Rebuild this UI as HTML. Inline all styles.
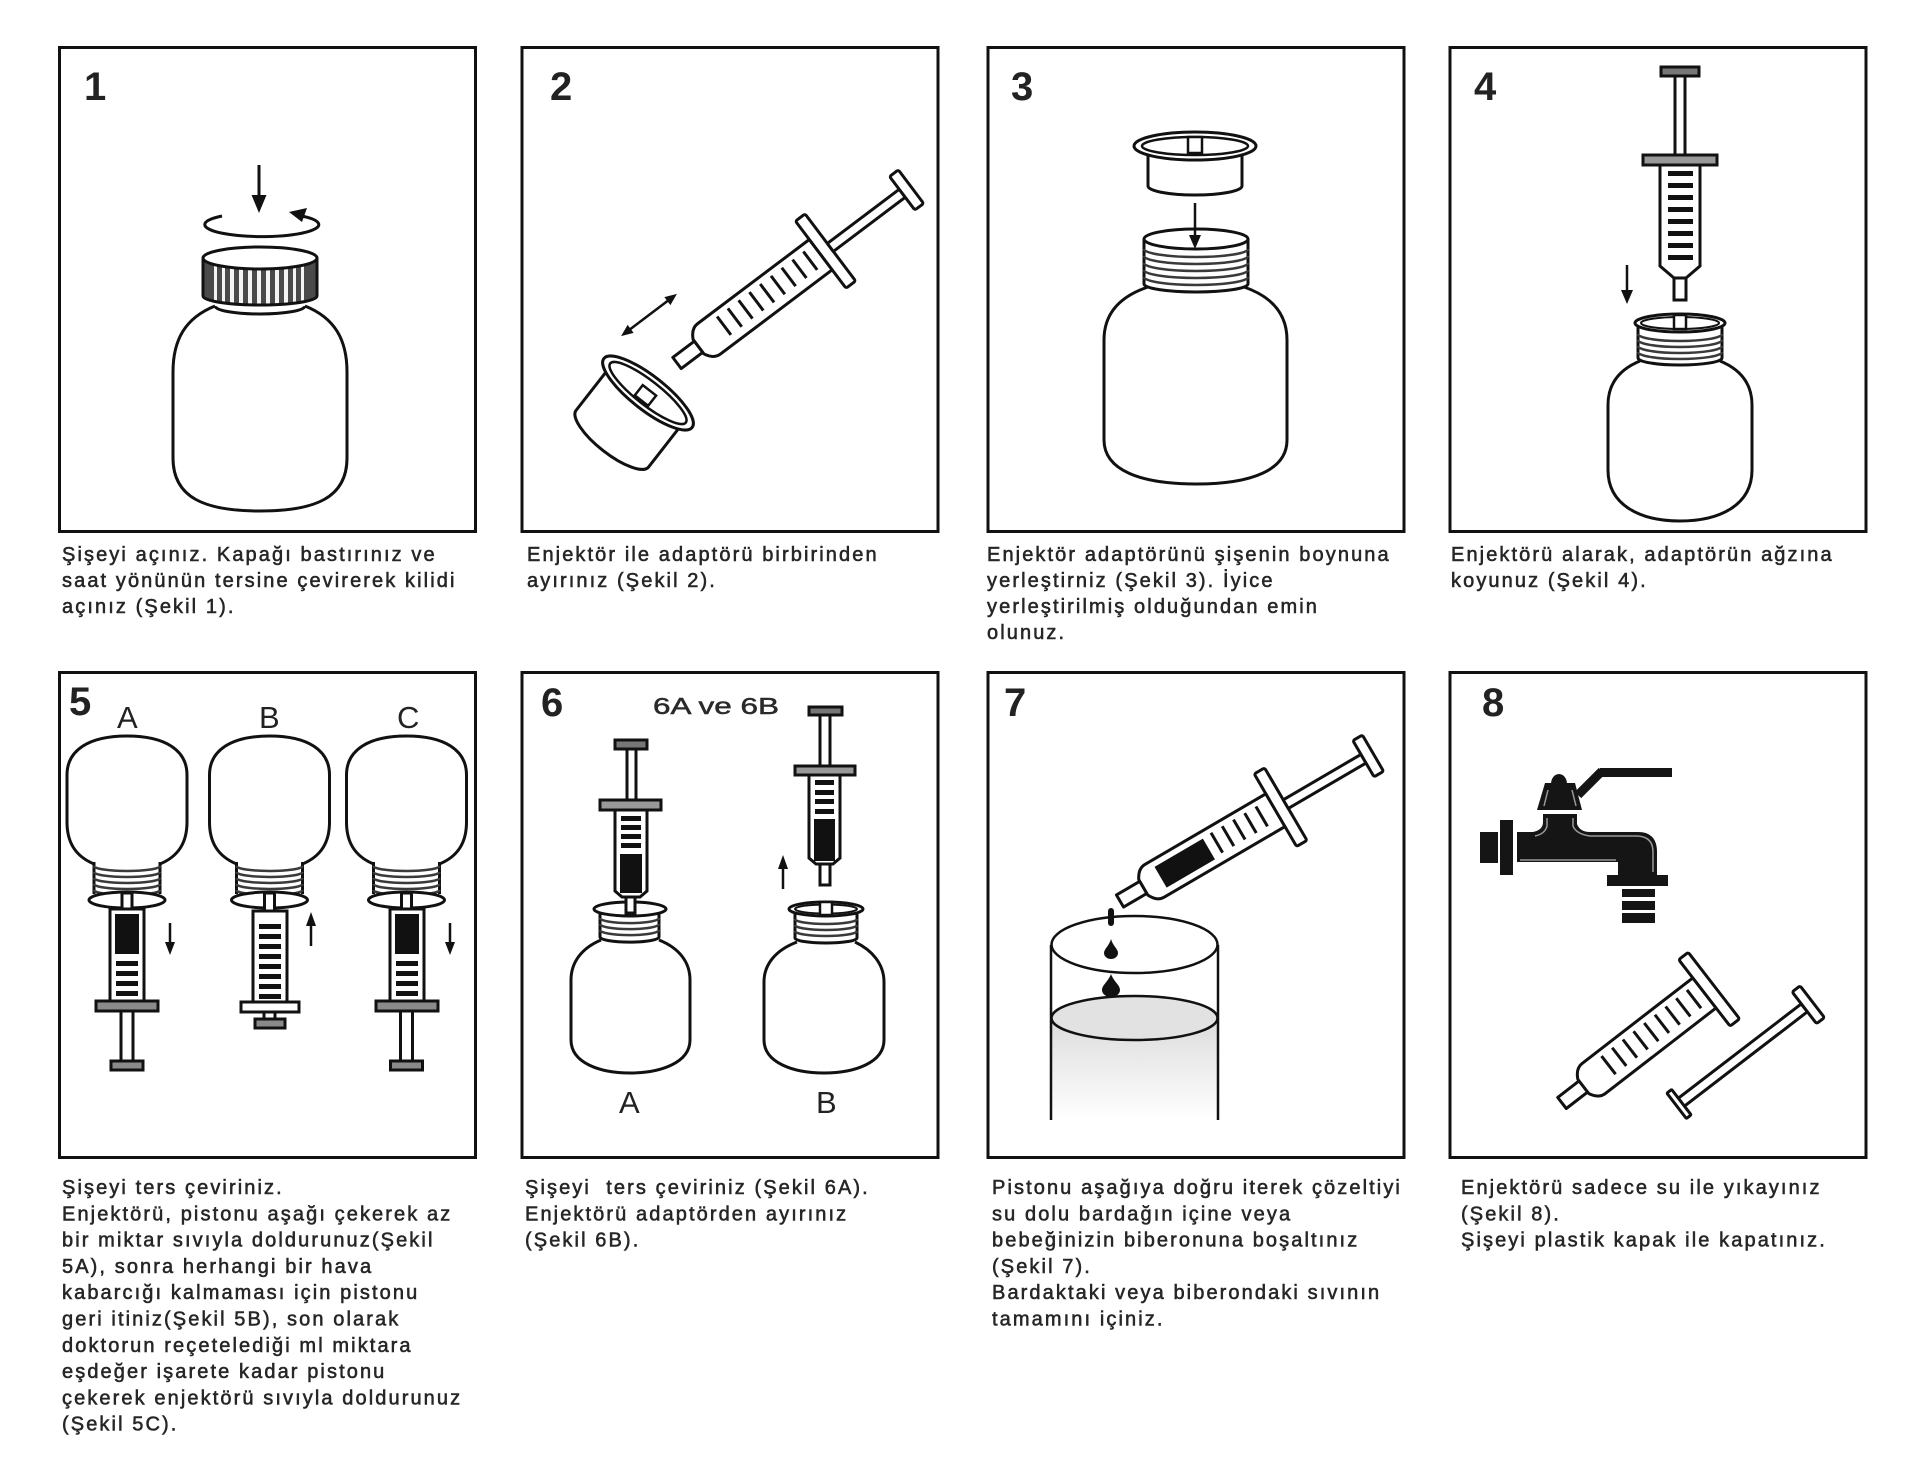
<!DOCTYPE html>
<html><head><meta charset="utf-8"><style>
html,body{margin:0;padding:0;background:#fff;}
svg{display:block;}
.t{font-family:"Liberation Sans",Arial,sans-serif;font-size:20px;letter-spacing:2.1px;fill:#262626;stroke:#262626;stroke-width:0.55px;white-space:pre;}
.n{font-family:"Liberation Sans",Arial,sans-serif;font-size:40px;font-weight:bold;fill:#222;}
.l{font-family:"Liberation Sans",Arial,sans-serif;font-size:31px;fill:#222;}
.s{font-family:"Liberation Sans",Arial,sans-serif;font-size:23px;fill:#2a2a2a;stroke:#2a2a2a;stroke-width:0.5px;}
</style></head><body>
<svg width="1909" height="1475" viewBox="0 0 1909 1475" xmlns="http://www.w3.org/2000/svg">
<defs>
<g id="syr" fill="#fff" stroke="#111" stroke-width="3" stroke-linejoin="round">
 <rect x="0" y="-7" width="27" height="14"/>
 <path d="M27,-9 Q32,-19 40,-19 L180,-19 L180,19 L40,19 Q32,19 27,9 Z"/>
 <rect x="180" y="-42" width="12" height="84" rx="2"/>
 <rect x="192" y="-5" width="90" height="10"/>
 <rect x="282" y="-21" width="11" height="42" rx="2"/>
</g>
<g id="bar" fill="#fff" stroke="#111" stroke-width="3" stroke-linejoin="round">
 <rect x="0" y="-7" width="27" height="14"/>
 <path d="M27,-9 Q32,-19 40,-19 L180,-19 L180,19 L40,19 Q32,19 27,9 Z"/>
 <rect x="180" y="-42" width="12" height="84" rx="2"/>
</g>
<g id="grad9" stroke="#111" stroke-width="3">
 <line x1="60" y1="-13" x2="60" y2="10"/><line x1="73.5" y1="-13" x2="73.5" y2="10"/><line x1="87" y1="-13" x2="87" y2="10"/><line x1="100.5" y1="-13" x2="100.5" y2="10"/><line x1="114" y1="-13" x2="114" y2="10"/><line x1="127.5" y1="-13" x2="127.5" y2="10"/><line x1="141" y1="-13" x2="141" y2="10"/><line x1="154.5" y1="-13" x2="154.5" y2="10"/><line x1="168" y1="-13" x2="168" y2="10"/>
</g>
<clipPath id="capclip"><path d="M203,258 L203,296 A57 9 0 0 0 317,296 L317,258 Z"/></clipPath>
<linearGradient id="liq" x1="0" y1="0" x2="0" y2="1">
 <stop offset="0" stop-color="#dcdcdc"/><stop offset="1" stop-color="#ffffff"/>
</linearGradient>
</defs>

<!-- panel boxes -->
<g fill="none" stroke="#111" stroke-width="3">
 <rect x="59.5" y="47.5" width="416" height="484"/>
 <rect x="522" y="47.5" width="416" height="484"/>
 <rect x="988" y="47.5" width="416" height="484"/>
 <rect x="1450" y="47.5" width="416" height="484"/>
 <rect x="59.5" y="672.5" width="416" height="485"/>
 <rect x="522" y="672.5" width="416" height="485"/>
 <rect x="988" y="672.5" width="416" height="485"/>
 <rect x="1450" y="672.5" width="416" height="485"/>
</g>

<!-- numbers -->
<text class="n" x="84" y="100">1</text>
<text class="n" x="550" y="100">2</text>
<text class="n" x="1011" y="100">3</text>
<text class="n" x="1474" y="100">4</text>
<text class="n" x="69" y="715">5</text>
<text class="n" x="541" y="716">6</text>
<text class="n" x="1004" y="716">7</text>
<text class="n" x="1482" y="716">8</text>

<!-- PANEL 1 -->
<g stroke="#111" stroke-width="3" fill="none">
 <line x1="259" y1="165" x2="259" y2="198"/>
 <path d="M222,216 A57 12 0 1 0 296,215"/>
</g>
<polygon points="251.5,195 266.5,195 259,213" fill="#111"/>
<polygon points="289,212 307,208 302,222" fill="#111"/>
<path d="M215,306 C185,318 173,340 173,372 L173,458 C173,498 205,511 260,511 C315,511 347,498 347,458 L347,372 C347,340 335,318 305,306" fill="none" stroke="#111" stroke-width="3"/>
<path d="M215,306 A45 8 0 0 0 305,306" fill="none" stroke="#111" stroke-width="3"/>
<g clip-path="url(#capclip)">
 <rect x="203" y="255" width="114" height="50" fill="#4a4a4a"/>
 <g fill="#f4f4f4">
  <rect x="214" y="255" width="3" height="50"/><rect x="222" y="255" width="3" height="50"/><rect x="230" y="255" width="4" height="50"/><rect x="239" y="255" width="4" height="50"/><rect x="248" y="255" width="4" height="50"/><rect x="257" y="255" width="4" height="50"/><rect x="266" y="255" width="4" height="50"/><rect x="275" y="255" width="4" height="50"/><rect x="284" y="255" width="4" height="50"/><rect x="293" y="255" width="3" height="50"/><rect x="301" y="255" width="3" height="50"/>
 </g>
</g>
<path d="M203,258 L203,296 A57 9 0 0 0 317,296 L317,258" fill="none" stroke="#111" stroke-width="3"/>
<ellipse cx="260" cy="258" rx="57" ry="11" fill="#fff" stroke="#111" stroke-width="3"/>

<!-- PANEL 2 -->
<g transform="translate(677,363) rotate(-37)">
 <use href="#syr"/>
 <use href="#grad9"/>
</g>
<g transform="translate(649,315) rotate(-37)">
 <line x1="-24" y1="0" x2="24" y2="0" stroke="#111" stroke-width="2.5"/>
 <polygon points="-35,0 -23,-5 -23,5" fill="#111"/>
 <polygon points="35,0 23,-5 23,5" fill="#111"/>
</g>
<g transform="translate(648,393) rotate(38)" stroke="#111" stroke-width="3" fill="#fff">
 <path d="M-46,6 L-46,58 A46 15 0 0 0 46,58 L46,6 Z"/>
 <ellipse cx="0" cy="0" rx="56" ry="17"/>
 <ellipse cx="0" cy="0" rx="48" ry="12" stroke-width="2.5"/>
 <rect x="-9" y="-3" width="17" height="13" stroke-width="2.5"/>
</g>

<!-- PANEL 3 -->
<g stroke="#111" stroke-width="3" fill="#fff">
 <path d="M1148,150 L1148,186 A47 9 0 0 0 1242,186 L1242,150 Z"/>
 <ellipse cx="1195" cy="146" rx="61" ry="14"/>
 <ellipse cx="1195" cy="146" rx="53" ry="9" stroke-width="2.5"/>
 <rect x="1188" y="137" width="14" height="16" stroke-width="2.5"/>
 <path d="M1148,287 C1118,297 1104,315 1104,340 L1104,440 C1104,470 1140,484 1196,484 C1252,484 1287,470 1287,440 L1287,340 C1287,315 1273,297 1244,287" fill="none"/>
 <path d="M1144,239 L1144,284 A52 8 0 0 0 1248,284 L1248,239" fill="#fff"/>
 <ellipse cx="1196" cy="239" rx="52" ry="10"/>
</g>
<g fill="none" stroke="#3a3a3a" stroke-width="2.5">
 <path d="M1144,249 A52 8 0 0 0 1248,249"/><path d="M1144,256 A52 8 0 0 0 1248,256"/><path d="M1144,263 A52 8 0 0 0 1248,263"/><path d="M1144,270 A52 8 0 0 0 1248,270"/><path d="M1144,277 A52 8 0 0 0 1248,277"/>
</g>
<line x1="1195" y1="203" x2="1195" y2="238" stroke="#111" stroke-width="2.5"/>
<polygon points="1189,235 1201,235 1195,249" fill="#111"/>

<!-- PANEL 4 -->
<g stroke="#111" stroke-width="3" fill="#fff">
 <rect x="1661" y="67" width="38" height="9" fill="#777"/>
 <rect x="1675" y="76" width="10" height="79"/>
 <rect x="1643" y="155" width="74" height="10" fill="#999"/>
 <path d="M1660,165 L1660,266 L1674,278 L1686,278 L1700,266 L1700,165 Z"/>
 <rect x="1674" y="278" width="12" height="22"/>
</g>
<g fill="#111">
 <rect x="1668" y="171" width="25" height="5"/><rect x="1668" y="183" width="25" height="5"/><rect x="1668" y="195" width="25" height="5"/><rect x="1668" y="207" width="25" height="5"/><rect x="1668" y="219" width="25" height="5"/><rect x="1668" y="231" width="25" height="5"/><rect x="1668" y="243" width="25" height="5"/><rect x="1668" y="255" width="25" height="5"/>
</g>
<line x1="1627" y1="265" x2="1627" y2="292" stroke="#111" stroke-width="2.5"/>
<polygon points="1621,290 1633,290 1627,304" fill="#111"/>
<g stroke="#111" stroke-width="3" fill="#fff">
 <path d="M1640,361 C1618,370 1608,385 1608,405 L1608,470 C1608,505 1640,521 1680,521 C1720,521 1752,505 1752,470 L1752,405 C1752,385 1742,370 1720,361" fill="none"/>
 <path d="M1638,325 L1638,358 A42 7 0 0 0 1722,358 L1722,325 Z"/>
</g>
<g fill="none" stroke="#3a3a3a" stroke-width="2.5">
 <path d="M1638,334 A42 7 0 0 0 1722,334"/><path d="M1638,340 A42 7 0 0 0 1722,340"/><path d="M1638,346 A42 7 0 0 0 1722,346"/><path d="M1638,352 A42 7 0 0 0 1722,352"/>
</g>
<g stroke="#111" stroke-width="3" fill="#fff">
 <ellipse cx="1680" cy="323" rx="45" ry="9"/>
 <ellipse cx="1680" cy="323" rx="39" ry="6" stroke-width="2"/>
 <rect x="1674" y="315" width="12" height="14" stroke-width="2.5"/>
</g>

<!-- PANEL 5 -->
<text class="l" x="117" y="728">A</text>
<text class="l" x="259" y="728">B</text>
<text class="l" x="397" y="728">C</text>
<!-- bottle A -->
<g stroke="#111" stroke-width="3" fill="#fff">
 <path d="M94,864 C75,856 67,842 67,822 L67,775 C67,750 89,736 127,736 C165,736 187,750 187,775 L187,822 C187,842 179,856 160,864" fill="none"/>
 <rect x="94" y="862" width="66" height="32" fill="#fff" stroke="none"/>
 <line x1="94" y1="862" x2="94" y2="894"/><line x1="160" y1="862" x2="160" y2="894"/>
</g>
<g fill="none" stroke="#3a3a3a" stroke-width="2.5">
 <path d="M94,866 A33 5 0 0 0 160,866"/><path d="M94,872 A33 5 0 0 0 160,872"/><path d="M94,878 A33 5 0 0 0 160,878"/><path d="M94,884 A33 5 0 0 0 160,884"/><path d="M94,890 A33 5 0 0 0 160,890"/>
</g>
<g stroke="#111" stroke-width="3" fill="#fff">
 <ellipse cx="127" cy="900" rx="38" ry="8"/>
 <rect x="122" y="893" width="10" height="17"/>
 <rect x="110" y="909" width="34" height="92"/>
 <rect x="96" y="1001" width="62" height="10" fill="#8a8a8a"/>
 <rect x="121" y="1011" width="12" height="50"/>
 <rect x="111" y="1061" width="32" height="9" fill="#8a8a8a"/>
</g>
<rect x="115" y="914" width="24" height="40" fill="#111"/>
<g fill="#111"><rect x="116" y="961" width="22" height="5"/><rect x="116" y="971" width="22" height="5"/><rect x="116" y="981" width="22" height="5"/><rect x="116" y="991" width="22" height="5"/></g>
<line x1="170" y1="923" x2="170" y2="944" stroke="#111" stroke-width="2.5"/>
<polygon points="165,942 175,942 170,955" fill="#111"/>
<!-- bottle B -->
<g stroke="#111" stroke-width="3" fill="#fff">
 <path d="M236.5,864 C217.5,856 209.5,842 209.5,822 L209.5,775 C209.5,750 231.5,736 269.5,736 C307.5,736 329.5,750 329.5,775 L329.5,822 C329.5,842 321.5,856 302.5,864" fill="none"/>
 <line x1="236.5" y1="862" x2="236.5" y2="894"/><line x1="302.5" y1="862" x2="302.5" y2="894"/>
</g>
<g fill="none" stroke="#3a3a3a" stroke-width="2.5">
 <path d="M236.5,866 A33 5 0 0 0 302.5,866"/><path d="M236.5,872 A33 5 0 0 0 302.5,872"/><path d="M236.5,878 A33 5 0 0 0 302.5,878"/><path d="M236.5,884 A33 5 0 0 0 302.5,884"/><path d="M236.5,890 A33 5 0 0 0 302.5,890"/>
</g>
<g stroke="#111" stroke-width="3" fill="#fff">
 <ellipse cx="269.5" cy="900" rx="38" ry="8"/>
 <rect x="264.5" y="893" width="10" height="19"/>
 <rect x="253" y="911" width="34" height="91"/>
 <rect x="241" y="1002" width="58" height="10" fill="#fff"/>
 <rect x="264" y="1012" width="11" height="8"/>
 <rect x="255" y="1019" width="30" height="9" fill="#8a8a8a"/>
</g>
<g fill="#111"><rect x="259" y="924" width="22" height="5"/><rect x="259" y="934" width="22" height="5"/><rect x="259" y="944" width="22" height="5"/><rect x="259" y="954" width="22" height="5"/><rect x="259" y="964" width="22" height="5"/><rect x="259" y="974" width="22" height="5"/><rect x="259" y="984" width="22" height="5"/><rect x="259" y="994" width="22" height="5"/></g>
<line x1="311" y1="946" x2="311" y2="924" stroke="#111" stroke-width="2.5"/>
<polygon points="306,926 316,926 311,912" fill="#111"/>
<!-- bottle C -->
<g stroke="#111" stroke-width="3" fill="#fff">
 <path d="M373.5,864 C354.5,856 346.5,842 346.5,822 L346.5,775 C346.5,750 368.5,736 406.5,736 C444.5,736 466.5,750 466.5,775 L466.5,822 C466.5,842 458.5,856 439.5,864" fill="none"/>
 <line x1="373.5" y1="862" x2="373.5" y2="894"/><line x1="439.5" y1="862" x2="439.5" y2="894"/>
</g>
<g fill="none" stroke="#3a3a3a" stroke-width="2.5">
 <path d="M373.5,866 A33 5 0 0 0 439.5,866"/><path d="M373.5,872 A33 5 0 0 0 439.5,872"/><path d="M373.5,878 A33 5 0 0 0 439.5,878"/><path d="M373.5,884 A33 5 0 0 0 439.5,884"/><path d="M373.5,890 A33 5 0 0 0 439.5,890"/>
</g>
<g stroke="#111" stroke-width="3" fill="#fff">
 <ellipse cx="406.5" cy="900" rx="38" ry="8"/>
 <rect x="401.5" y="893" width="10" height="17"/>
 <rect x="390" y="909" width="34" height="92"/>
 <rect x="376" y="1001" width="62" height="10" fill="#8a8a8a"/>
 <rect x="400.5" y="1011" width="12" height="50"/>
 <rect x="390.5" y="1061" width="32" height="9" fill="#8a8a8a"/>
</g>
<rect x="395" y="914" width="24" height="40" fill="#111"/>
<g fill="#111"><rect x="396" y="961" width="22" height="5"/><rect x="396" y="971" width="22" height="5"/><rect x="396" y="981" width="22" height="5"/><rect x="396" y="991" width="22" height="5"/></g>
<line x1="450" y1="923" x2="450" y2="944" stroke="#111" stroke-width="2.5"/>
<polygon points="445,942 455,942 450,955" fill="#111"/>

<!-- PANEL 6 -->
<text class="s" x="653" y="714" textLength="126" lengthAdjust="spacingAndGlyphs">6A ve 6B</text>
<!-- bottle 6A -->
<g stroke="#111" stroke-width="3" fill="#fff">
 <path d="M601,940 C582,948 571,962 571,980 L571,1040 C571,1063 600,1073 630,1073 C660,1073 690,1063 690,1040 L690,980 C690,962 679,948 659,940" fill="none"/>
 <path d="M600,911 L600,937 A29 5 0 0 0 659,937 L659,911 Z"/>
</g>
<g fill="none" stroke="#3a3a3a" stroke-width="2.5">
 <path d="M600,918 A29 5 0 0 0 659,918"/><path d="M600,924 A29 5 0 0 0 659,924"/><path d="M600,930 A29 5 0 0 0 659,930"/>
</g>
<g stroke="#111" stroke-width="3" fill="#fff">
 <ellipse cx="630" cy="909" rx="36" ry="7"/>
 <rect x="626" y="895" width="9" height="18"/>
 <rect x="615" y="740" width="32" height="9" fill="#777"/>
 <rect x="627" y="749" width="9" height="51"/>
 <rect x="600" y="800" width="61" height="10" fill="#999"/>
 <path d="M615,810 L615,891 L622,897 L640,897 L647,891 L647,810 Z"/>
</g>
<rect x="620" y="854" width="22" height="39" fill="#111"/>
<g fill="#111"><rect x="621" y="816" width="20" height="5"/><rect x="621" y="825" width="20" height="5"/><rect x="621" y="834" width="20" height="5"/><rect x="621" y="843" width="20" height="5"/></g>
<text class="l" x="619" y="1113">A</text>
<!-- bottle 6B -->
<g stroke="#111" stroke-width="3" fill="#fff">
 <path d="M797,942 C776,950 764,964 764,982 L764,1040 C764,1063 794,1073 824,1073 C854,1073 884,1063 884,1040 L884,982 C884,964 872,950 855,942" fill="none"/>
 <path d="M795,911 L795,938 A31 5 0 0 0 857,938 L857,911 Z"/>
</g>
<g fill="none" stroke="#3a3a3a" stroke-width="2.5">
 <path d="M795,919 A31 5 0 0 0 857,919"/><path d="M795,925 A31 5 0 0 0 857,925"/><path d="M795,931 A31 5 0 0 0 857,931"/>
</g>
<g stroke="#111" stroke-width="3" fill="#fff">
 <ellipse cx="826" cy="909" rx="37" ry="7"/>
 <ellipse cx="826" cy="909" rx="31" ry="4.5" stroke-width="2"/>
 <rect x="820" y="902" width="12" height="13" stroke-width="2.5"/>
 <rect x="809" y="707" width="33" height="8" fill="#777"/>
 <rect x="820" y="715" width="10" height="51"/>
 <rect x="795" y="766" width="60" height="9" fill="#999"/>
 <path d="M809,775 L809,858 L816,864 L833,864 L840,858 L840,775 Z"/>
 <rect x="820" y="864" width="10" height="21"/>
</g>
<rect x="814" y="819" width="21" height="42" fill="#111"/>
<g fill="#111"><rect x="815" y="780" width="19" height="5"/><rect x="815" y="790" width="19" height="5"/><rect x="815" y="799" width="19" height="5"/><rect x="815" y="809" width="19" height="5"/></g>
<line x1="783" y1="889" x2="783" y2="868" stroke="#111" stroke-width="2.5"/>
<polygon points="778,869 788,869 783,855" fill="#111"/>
<text class="l" x="816" y="1113">B</text>

<!-- PANEL 7 -->
<path d="M1051,1018 L1051,1120 L1218,1120 L1218,1018 Z" fill="url(#liq)"/>
<ellipse cx="1134.5" cy="1018" rx="83" ry="22" fill="#e2e2e2" stroke="#111" stroke-width="2.5"/>
<g stroke="#111" stroke-width="2.5" fill="none">
 <line x1="1051" y1="945" x2="1051" y2="1120"/>
 <line x1="1218" y1="945" x2="1218" y2="1120"/>
 <ellipse cx="1134.5" cy="944.5" rx="83" ry="28.5"/>
</g>
<rect x="1108" y="908" width="6" height="18" rx="3" fill="#111"/>
<path d="M1111,939 C1113,946 1118,949 1118,953 A7 6 0 0 1 1104,953 C1104,949 1109,946 1111,939 Z" fill="#111"/>
<path d="M1111,974 C1114,982 1120,985 1120,990 A9 7 0 0 1 1102,990 C1102,985 1108,982 1111,974 Z" fill="#111"/>
<g transform="translate(1120,901) rotate(-30.3)">
 <use href="#syr"/>
 <rect x="47" y="-12" width="56" height="24" fill="#111"/>
 <g stroke="#111" stroke-width="3"><line x1="113" y1="-13" x2="113" y2="10"/><line x1="126" y1="-13" x2="126" y2="10"/><line x1="139" y1="-13" x2="139" y2="10"/><line x1="152" y1="-13" x2="152" y2="10"/><line x1="165" y1="-13" x2="165" y2="10"/></g>
</g>

<!-- PANEL 8 faucet -->
<g fill="#151515">
 <rect x="1600" y="768" width="72" height="9"/>
 <line x1="1602" y1="771" x2="1578" y2="795" stroke="#151515" stroke-width="9"/>
 <path d="M1551,784 A8 10 0 0 1 1567,784 Z"/>
 <polygon points="1545,783 1575,783 1582,810 1537,810"/>
 <path d="M1543,814 L1577,814 L1577,824 Q1580,832 1590,832 L1638,832 Q1657,832 1657,852 L1657,875 L1618,875 L1618,862 L1517,862 L1517,832 L1533,832 Q1543,830 1543,822 Z"/>
 <rect x="1500" y="820" width="13" height="55"/>
 <rect x="1480" y="832" width="18" height="31"/>
 <rect x="1607" y="875" width="61" height="11"/>
 <rect x="1622" y="889" width="33" height="8"/>
 <rect x="1622" y="901" width="33" height="9"/>
 <rect x="1622" y="913" width="33" height="10"/>
</g>
<g stroke="#9a9a9a" stroke-width="1.5" fill="none">
 <path d="M1548,790 L1544,806"/><path d="M1572,790 L1576,806"/>
 <path d="M1547,818 L1547,826 Q1545,834 1535,836"/><path d="M1573,818 L1573,826 Q1576,834 1590,836 L1636,836 Q1653,836 1653,852 L1653,872"/>
 <line x1="1520" y1="860" x2="1616" y2="860"/>
</g>
<!-- panel 8 syringe parts -->
<g transform="translate(1562,1103) rotate(-37.7)">
 <use href="#bar"/>
 <use href="#grad9"/>
</g>
<g transform="translate(1679,1104) rotate(-37.5)" stroke="#111" stroke-width="3" fill="#fff">
 <rect x="2" y="-5" width="156" height="10"/>
 <rect x="-3" y="-16" width="6" height="32" rx="1"/>
 <rect x="158" y="-20" width="10" height="40" rx="2"/>
</g>

<!-- TEXT row 1 -->
<g>
 <text class="t" x="62" y="561">Şişeyi açınız. Kapağı bastırınız ve</text>
 <text class="t" x="62" y="587">saat yönünün tersine çevirerek kilidi</text>
 <text class="t" x="62" y="613">açınız (Şekil 1).</text>
 <text class="t" x="527" y="561">Enjektör ile adaptörü birbirinden</text>
 <text class="t" x="527" y="587">ayırınız (Şekil 2).</text>
 <text class="t" x="987" y="561">Enjektör adaptörünü şişenin boynuna</text>
 <text class="t" x="987" y="587">yerleştirniz (Şekil 3). İyice</text>
 <text class="t" x="987" y="613">yerleştirilmiş olduğundan emin</text>
 <text class="t" x="987" y="639">olunuz.</text>
 <text class="t" x="1451" y="561">Enjektörü alarak, adaptörün ağzına</text>
 <text class="t" x="1451" y="587">koyunuz (Şekil 4).</text>
</g>
<!-- TEXT row 2 -->
<g>
 <text class="t" x="62" y="1194">Şişeyi ters çeviriniz.</text>
 <text class="t" x="62" y="1220.3">Enjektörü, pistonu aşağı çekerek az</text>
 <text class="t" x="62" y="1246.6">bir miktar sıvıyla doldurunuz(Şekil</text>
 <text class="t" x="62" y="1272.9">5A), sonra herhangi bir hava</text>
 <text class="t" x="62" y="1299.2">kabarcığı kalmaması için pistonu</text>
 <text class="t" x="62" y="1325.5">geri itiniz(Şekil 5B), son olarak</text>
 <text class="t" x="62" y="1351.8">doktorun reçetelediği ml miktara</text>
 <text class="t" x="62" y="1378.1">eşdeğer işarete kadar pistonu</text>
 <text class="t" x="62" y="1404.4">çekerek enjektörü sıvıyla doldurunuz</text>
 <text class="t" x="62" y="1430.7">(Şekil 5C).</text>
 <text class="t" x="525" y="1194">Şişeyi  ters çeviriniz (Şekil 6A).</text>
 <text class="t" x="525" y="1220.3">Enjektörü adaptörden ayırınız</text>
 <text class="t" x="525" y="1246.6">(Şekil 6B).</text>
 <text class="t" x="992" y="1194">Pistonu aşağıya doğru iterek çözeltiyi</text>
 <text class="t" x="992" y="1220.3">su dolu bardağın içine veya</text>
 <text class="t" x="992" y="1246.6">bebeğinizin biberonuna boşaltınız</text>
 <text class="t" x="992" y="1272.9">(Şekil 7).</text>
 <text class="t" x="992" y="1299.2">Bardaktaki veya biberondaki sıvının</text>
 <text class="t" x="992" y="1325.5">tamamını içiniz.</text>
 <text class="t" x="1461" y="1194">Enjektörü sadece su ile yıkayınız</text>
 <text class="t" x="1461" y="1220.3">(Şekil 8).</text>
 <text class="t" x="1461" y="1246.6">Şişeyi plastik kapak ile kapatınız.</text>
</g>
</svg>
</body></html>
